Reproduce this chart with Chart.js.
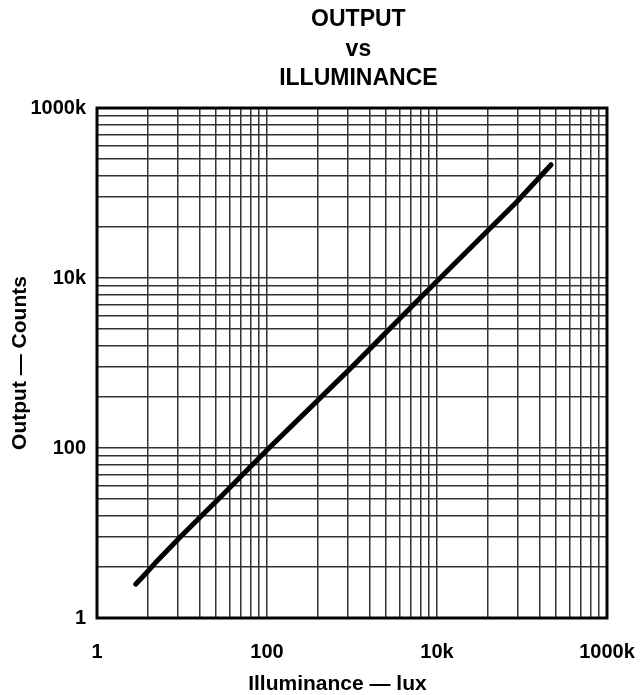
<!DOCTYPE html>
<html>
<head>
<meta charset="utf-8">
<script src="https://cdn.jsdelivr.net/npm/chart.js@4/dist/chart.umd.min.js"></script>
<style>
  html, body { margin: 0; padding: 0; background: #fff; }
  #wrap { width: 640px; height: 695px; }
</style>
</head>
<body>
<div id="wrap"><canvas id="chart"></canvas></div>
<script>
/* ---------- Données ---------- */
const illuminance = [2.85, 3.7, 4.8, 10, 30, 100, 1000, 7500, 87000, 220000];
const outputCounts = [2.5, 3.3, 4.4, 9.4, 28, 95, 900, 6900, 79000, 215000];

// repères de la grille : papier 3 cycles sur 6 décades
const gridSteps = [1, 4, 9, 16, 25, 36, 49, 64, 81];
const gridCycles = [1, 100, 10000];
const labelledTicks = { 1: "1", 100: "100", 10000: "10k", 1000000: "1000k" };

const FONT = "'Liberation Sans', Arial, Helvetica, sans-serif";

function buildGridTicks(scale) {
    const ticks = [];
    gridCycles.forEach(c => gridSteps.forEach(s => ticks.push({ value: s * c })));
    ticks.push({ value: 1000000 });
    scale.ticks = ticks;
}

/* ---------- Cadre épais autour de la zone ---------- */
const framePlugin = {
    id: "frame",
    afterDatasetsDraw(chart) {
        const a = chart.chartArea;
        const ctx = chart.ctx;
        ctx.save();
        ctx.strokeStyle = "#000";
        ctx.lineWidth = 3;
        ctx.strokeRect(a.left, a.top, a.right - a.left, a.bottom - a.top);
        ctx.restore();
    }
};

const gridOpts = { color: "#333", lineWidth: 1.5, drawTicks: false };
const tickFont = { family: FONT, size: 20, weight: "bold" };

new Chart(document.getElementById("chart"), {
    type: "line",
    data: {
        datasets: [{
            data: illuminance.map((x, i) => ({ x: x, y: outputCounts[i] })),
            borderColor: "#000",
            borderWidth: 5,
            borderCapStyle: "round",
            borderJoinStyle: "round",
            pointRadius: 0,
            tension: 0
        }]
    },
    options: {
        responsive: true,
        maintainAspectRatio: false,
        animation: false,
        layout: { padding: { right: 33 } },
        plugins: {
            legend: { display: false },
            tooltip: { enabled: false },
            title: {
                display: true,
                fullSize: false,
                text: ["  OUTPUT", "  vs", "  ILLUMINANCE"],
                color: "#000",
                font: { family: FONT, size: 23, weight: "bold", lineHeight: 1.283 },
                padding: { top: 5, bottom: 14.5 }
            }
        },
        scales: {
            x: {
                type: "logarithmic",
                min: 1,
                max: 1000000,
                afterBuildTicks: buildGridTicks,
                afterFit: s => {
                    s.height = 77;
                    s.paddingLeft = 0;
                    s.paddingRight = 0;
                },
                grid: gridOpts,
                border: { display: false },
                ticks: {
                    autoSkip: false,
                    maxRotation: 0,
                    padding: 22,
                    color: "#000",
                    font: tickFont,
                    callback: v => labelledTicks[v] || ""
                },
                title: {
                    display: true,
                    text: "Illuminance — lux     ",
                    color: "#000",
                    font: { family: FONT, size: 21, weight: "bold", lineHeight: 1 },
                    padding: { top: 0, bottom: 0 }
                }
            },
            y: {
                type: "logarithmic",
                min: 1,
                max: 1000000,
                afterBuildTicks: buildGridTicks,
                afterFit: s => { s.width = 97; },
                grid: gridOpts,
                border: { display: false },
                ticks: {
                    autoSkip: false,
                    padding: 11,
                    color: "#000",
                    font: tickFont,
                    callback: v => labelledTicks[v] || ""
                },
                title: {
                    display: true,
                    text: "Output — Counts",
                    color: "#000",
                    font: { family: FONT, size: 21, weight: "bold", lineHeight: 1 },
                    padding: { top: 9.5, bottom: 0 }
                }
            }
        }
    },
    plugins: [framePlugin]
});
</script>
</body>
</html>
